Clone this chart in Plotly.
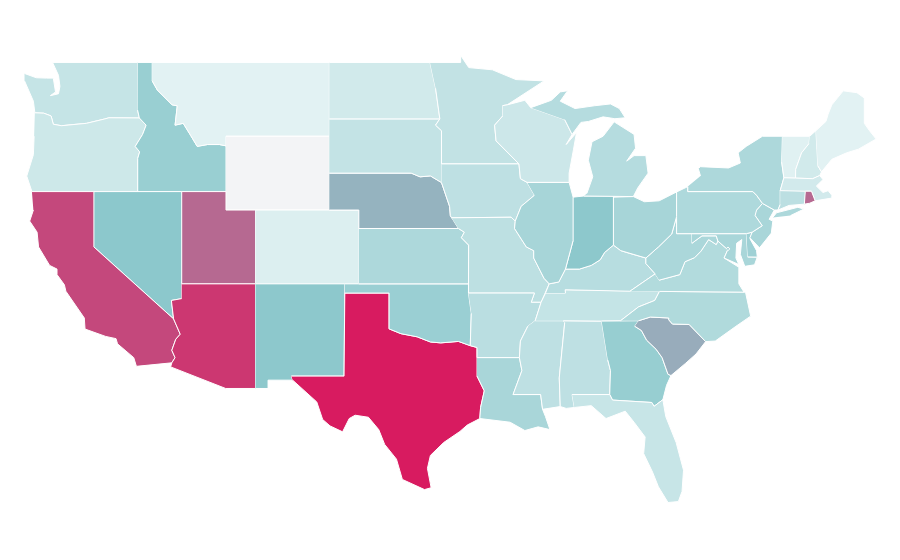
import plotly.graph_objects as go
from plotly.colors import sample_colorscale

# plotly's usa topojson comes from a CDN and there is no network here, so the
# state outlines are hand estimated (lon, lat) and drawn on plain axes

WA = [(-124.7,48.4),(-123.9,48.17),(-123.2,48.15),(-122.75,48.15),(-122.6,47.4),(-122.95,47.2),(-122.4,47.3),(-122.3,47.7),(-122.4,48.3),(-122.8,49),(-117.03,49),(-117.04,46.42),(-116.92,45.99),(-118.98,46),(-119.3,45.93),(-120.5,45.7),(-121.2,45.65),(-122.2,45.57),(-122.75,45.65),(-122.9,46.1),(-123.4,46.25),(-124,46.27),(-124.1,46.9),(-124.4,47.5),(-124.7,48)]
OR = [(-124,46.27),(-123.4,46.25),(-122.9,46.1),(-122.75,45.65),(-122.2,45.57),(-121.2,45.65),(-120.5,45.7),(-119.3,45.93),(-118.98,46),(-116.92,45.99),(-116.46,45.6),(-116.7,45.1),(-117.2,44.45),(-116.9,44.15),(-117.03,43.8),(-117.03,42),(-124.2,42),(-124.55,42.84),(-124.1,44),(-124.05,45)]
ID = [(-117.03,49),(-116.05,49),(-116.05,48),(-115.7,47.5),(-114.7,46.7),(-114.35,46.65),(-114.5,45.6),(-113.95,45.7),(-113.45,45.05),(-113,44.45),(-112.3,44.55),(-111.5,44.55),(-111.05,44.48),(-111.05,42),(-117.03,42),(-117.03,43.8),(-116.9,44.15),(-117.2,44.45),(-116.7,45.1),(-116.46,45.6),(-116.92,45.99),(-117.04,46.42)]
MT = [(-116.05,49),(-104.05,49),(-104.05,45),(-111.05,45),(-111.05,44.48),(-111.5,44.55),(-112.3,44.55),(-113,44.45),(-113.45,45.05),(-113.95,45.7),(-114.5,45.6),(-114.35,46.65),(-114.7,46.7),(-115.7,47.5),(-116.05,48)]
WY = [(-111.05,45),(-104.05,45),(-104.05,41),(-111.05,41)]
UT = [(-114.05,42),(-111.05,42),(-111.05,41),(-109.05,41),(-109.05,37),(-114.05,37)]
NV = [(-120,42),(-114.05,42),(-114.05,36.2),(-114.75,36.1),(-114.6,35.1),(-120,39)]
CA = [(-124.2,42),(-120,42),(-120,39),(-114.6,35.1),(-114.15,34.27),(-114.45,34),(-114.72,33.4),(-114.5,33),(-114.72,32.72),(-117.12,32.53),(-117.3,33),(-118.4,33.75),(-118.5,34.03),(-119.2,34.15),(-120.6,34.55),(-120.65,35.15),(-121.9,36.6),(-122,36.95),(-122.5,37.5),(-122.5,37.8),(-123,38),(-123.75,39),(-123.85,39.8),(-124.35,40.4),(-124.1,41)]
AZ = [(-114.05,37),(-109.05,37),(-109.05,31.33),(-111.07,31.33),(-114.8,32.5),(-114.72,32.72),(-114.5,33),(-114.72,33.4),(-114.45,34),(-114.15,34.27),(-114.6,35.1),(-114.75,36.1),(-114.05,36.2)]
CO = [(-109.05,41),(-102.05,41),(-102.05,37),(-109.05,37)]
NM = [(-109.05,37),(-103,37),(-103.05,32),(-106.62,32),(-106.53,31.78),(-108.2,31.78),(-108.2,31.33),(-109.05,31.33)]
TX = [(-106.62,32),(-103.05,32),(-103,36.5),(-100,36.5),(-100,34.56),(-99.2,34.3),(-98.1,34.13),(-97.2,33.85),(-96.5,33.8),(-95.3,33.88),(-94.5,33.65),(-94.04,33.55),(-94.04,32),(-93.55,31.2),(-93.8,30.3),(-93.85,29.7),(-94.7,29.35),(-95.2,29),(-96.3,28.4),(-97.2,27.7),(-97.4,27),(-97.15,25.95),(-97.6,25.85),(-99.1,26.4),(-99.5,27.5),(-100.3,28.3),(-100.7,29.1),(-101.4,29.77),(-102.3,29.88),(-102.7,29.7),(-103.15,28.98),(-104,29.3),(-104.5,29.65),(-104.9,30.6),(-106.53,31.78)]
OK = [(-103,37),(-94.62,37),(-94.62,36.5),(-94.43,35.4),(-94.5,33.65),(-95.3,33.88),(-96.5,33.8),(-97.2,33.85),(-98.1,34.13),(-99.2,34.3),(-100,34.56),(-100,36.5),(-103,36.5)]
KS = [(-102.05,40),(-95.3,40),(-94.9,39.8),(-95.1,39.5),(-94.61,39.1),(-94.62,37),(-102.05,37)]
NE = [(-104.05,43),(-98.5,43),(-97.9,42.8),(-97.2,42.85),(-96.45,42.49),(-96.1,41.7),(-95.9,41.2),(-95.85,40.7),(-95.3,40),(-102.05,40),(-102.05,41),(-104.05,41)]
SD = [(-104.05,45.94),(-96.56,45.94),(-96.85,45.6),(-96.45,45.3),(-96.45,42.49),(-97.2,42.85),(-97.9,42.8),(-98.5,43),(-104.05,43)]
ND = [(-104.05,49),(-97.23,49),(-96.85,47.6),(-96.56,45.94),(-104.05,45.94)]
MN = [(-97.23,49),(-95.15,49),(-95.15,49.38),(-94.6,48.72),(-93,48.6),(-91.4,48.07),(-89.5,48),(-90.8,47.3),(-92,46.7),(-92.3,46.66),(-92.3,46.1),(-92.85,45.6),(-92.75,44.75),(-91.2,43.5),(-96.45,43.5),(-96.45,45.3),(-96.85,45.6),(-96.56,45.94),(-96.85,47.6)]
IA = [(-96.45,43.5),(-91.2,43.5),(-91.1,42.7),(-90.65,42.5),(-90.15,41.8),(-91.05,41.2),(-91.45,40.4),(-91.73,40.61),(-95.77,40.58),(-95.85,40.7),(-95.9,41.2),(-96.1,41.7),(-96.45,42.49)]
MO = [(-95.77,40.58),(-91.73,40.61),(-91.45,40.4),(-91.5,40),(-90.7,39),(-90.2,38.8),(-90.2,38.4),(-89.5,37.3),(-89.15,37),(-89.4,36.5),(-89.7,36),(-90.37,36),(-90.15,36.5),(-94.62,36.5),(-94.62,37),(-94.61,39.1),(-95.1,39.5),(-94.9,39.8),(-95.3,40)]
AR = [(-94.62,36.5),(-90.15,36.5),(-90.37,36),(-89.7,36),(-90.1,35),(-90.6,34.7),(-91.1,33.9),(-91.17,33),(-94.04,33),(-94.04,33.55),(-94.5,33.65),(-94.43,35.4)]
LA = [(-94.04,33),(-91.17,33),(-91,32.3),(-91.6,31),(-89.73,31),(-89.6,30.2),(-89.4,29.8),(-89.1,29.1),(-89.9,29.25),(-90.8,29.05),(-91.8,29.5),(-92.3,29.55),(-93.85,29.7),(-93.8,30.3),(-93.55,31.2),(-94.04,32)]
MS = [(-90.1,35),(-88.2,35),(-88.1,34.9),(-88.47,31.9),(-88.4,30.35),(-89.6,30.2),(-89.73,31),(-91.6,31),(-91,32.3),(-91.17,33),(-91.1,33.9),(-90.6,34.7)]
AL = [(-88.2,35),(-85.6,34.98),(-85.18,32.87),(-85,32.3),(-85.05,31),(-87.6,31),(-87.45,30.3),(-88,30.25),(-88.4,30.35),(-88.47,31.9),(-88.1,34.9)]
TN = [(-90.1,35),(-89.7,36),(-89.4,36.5),(-88.05,36.5),(-88.07,36.68),(-83.68,36.6),(-81.68,36.59),(-82,36.1),(-83.1,35.75),(-84.32,35),(-85.6,34.98),(-88.2,35)]
KY = [(-89.4,36.5),(-89.15,37),(-88.5,37.1),(-88.05,37.8),(-87.1,37.8),(-86.3,38),(-85.7,38.3),(-85.4,38.7),(-84.8,39.1),(-84.3,38.8),(-83.7,38.65),(-82.6,38.4),(-82.6,38.1),(-81.97,37.54),(-83.68,36.6),(-88.07,36.68),(-88.05,36.5)]
GA = [(-85.6,34.98),(-83.1,35),(-83.35,34.7),(-82.9,34.47),(-82.55,33.95),(-81.9,33.45),(-81.5,33),(-81.1,32.1),(-80.9,32.03),(-81.2,31.5),(-81.45,30.72),(-82.05,30.36),(-82.2,30.57),(-84.86,30.7),(-85.05,31),(-85,32.3),(-85.18,32.87)]
FL = [(-87.6,31),(-85.05,31),(-84.86,30.7),(-82.2,30.57),(-82.05,30.36),(-81.45,30.72),(-81.25,29.8),(-80.55,28.4),(-80.05,26.9),(-80.15,25.75),(-80.4,25.2),(-81.1,25.15),(-81.75,26),(-82.15,26.8),(-82.75,27.8),(-82.65,28.7),(-83.4,29.5),(-84,30.1),(-85.3,29.7),(-86.3,30.4),(-87.45,30.3)]
SC = [(-83.1,35),(-82.3,35.2),(-81.05,35.15),(-81.05,35.05),(-80.8,34.82),(-79.67,34.8),(-78.55,33.87),(-79.2,33.2),(-79.9,32.7),(-80.9,32.03),(-81.1,32.1),(-81.5,33),(-81.9,33.45),(-82.55,33.95),(-82.9,34.47),(-83.35,34.7)]
NC = [(-84.32,35),(-83.1,35.75),(-82,36.1),(-81.68,36.59),(-75.85,36.55),(-75.5,35.25),(-76.5,34.7),(-77.9,33.9),(-78.55,33.87),(-79.67,34.8),(-80.8,34.82),(-81.05,35.05),(-81.05,35.15),(-82.3,35.2),(-83.1,35)]
VA = [(-83.68,36.6),(-81.97,37.54),(-81.7,37.2),(-80.3,37.5),(-79.95,38.2),(-79.3,38.42),(-78.87,38.77),(-78.35,39.4),(-77.83,39.13),(-77.72,39.32),(-77.05,38.85),(-77.3,38.4),(-76.3,37.9),(-76.3,37),(-75.95,36.55),(-81.68,36.59)]
WV = [(-81.97,37.54),(-82.6,38.1),(-82.6,38.4),(-81.75,39),(-80.85,39.7),(-80.52,40.64),(-80.52,39.72),(-79.48,39.72),(-79.48,39.2),(-78.8,39.6),(-78.4,39.6),(-77.83,39.6),(-77.72,39.32),(-77.83,39.13),(-78.35,39.4),(-78.87,38.77),(-79.3,38.42),(-79.95,38.2),(-80.3,37.5),(-81.7,37.2)]
MD = [(-79.48,39.72),(-75.79,39.72),(-75.7,38.46),(-75.05,38.45),(-75.24,38.03),(-75.9,37.95),(-76.2,38.6),(-76.1,39.4),(-76.45,39.2),(-76.5,38.4),(-76.3,38.05),(-77.3,38.4),(-77.05,38.85),(-77.72,39.32),(-77.83,39.6),(-78.4,39.6),(-78.8,39.6),(-79.48,39.2)]
DE = [(-75.79,39.72),(-75.4,39.8),(-75.55,39.45),(-75.1,38.8),(-75.05,38.45),(-75.7,38.46)]
NJ = [(-75.1,41),(-74.7,41.36),(-73.9,41),(-74.25,40.5),(-74,40.4),(-74.1,39.75),(-74.9,38.95),(-75.55,39.5),(-75.4,39.8),(-74.72,40.15),(-75.2,40.7)]
PA = [(-80.52,41.98),(-79.76,42.27),(-79.76,42),(-75.35,42),(-75.1,41.8),(-74.7,41.36),(-75.1,41),(-75.2,40.7),(-74.72,40.15),(-75.4,39.8),(-75.79,39.72),(-80.52,39.72),(-80.52,40.64)]
OH = [(-84.8,41.7),(-83.45,41.73),(-82.7,41.45),(-81.7,41.5),(-80.52,41.98),(-80.52,40.64),(-80.85,39.7),(-81.75,39),(-82.6,38.4),(-83.7,38.65),(-84.3,38.8),(-84.8,39.1)]
IN = [(-87.53,41.7),(-86.8,41.76),(-84.8,41.76),(-84.8,39.1),(-85.4,38.7),(-85.7,38.3),(-86.3,38),(-87.1,37.8),(-88.05,37.8),(-87.53,39.35)]
IL = [(-90.65,42.5),(-87.8,42.5),(-87.53,41.7),(-87.53,39.35),(-88.05,37.8),(-88.5,37.1),(-89.15,37),(-89.5,37.3),(-90.2,38.4),(-90.2,38.8),(-90.7,39),(-91.5,40),(-91.45,40.4),(-91.05,41.2),(-90.15,41.8)]
WI = [(-92.3,46.66),(-92,46.7),(-90.8,46.95),(-90.4,46.55),(-88.1,45.9),(-87.6,45.1),(-88,44.55),(-87.3,45.2),(-87.5,44.3),(-87.8,43),(-87.8,42.5),(-90.65,42.5),(-91.1,42.7),(-91.2,43.5),(-92.75,44.75),(-92.85,45.6),(-92.3,46.1)]
MI = [(-90.4,46.55),(-89,46.95),(-88.4,47.4),(-87.9,47.47),(-88.4,46.9),(-87.4,46.5),(-86.1,46.65),(-85,46.75),(-84.4,46.5),(-84,46),(-84.7,45.95),(-85.5,46.05),(-86.5,45.8),(-87,45.75),(-87.6,45.1),(-88.1,45.9),(None,None),
      (-86.8,41.76),(-84.8,41.76),(-83.45,41.73),(-83.15,42.2),(-82.45,43),(-82.6,43.95),(-83.4,43.95),(-83.9,43.65),(-83.3,44.35),(-83.4,45.1),(-84.75,45.78),(-85.5,45),(-86.25,44.7),(-86.5,43.7),(-86.2,42.8),(-86.6,41.9)]
NY = [(-79.76,42.27),(-79.76,42),(-75.35,42),(-75.1,41.8),(-74.7,41.36),(-73.9,41),(-73.65,41),(-73.5,41.3),(-73.5,42.05),(-73.25,42.75),(-73.4,43.6),(-73.35,45),(-74.7,45),(-75.8,44.45),(-76.35,44.1),(-76.2,43.55),(-77,43.28),(-78.9,43.35),(-79.05,43.25),(-78.9,42.85),(None,None),
      (-74,40.6),(-73.75,40.85),(-72.3,41.15),(-71.9,41.05),(-72.8,40.7)]
VT = [(-73.35,45),(-71.5,45),(-71.55,44.6),(-72.05,44.1),(-72.45,43.2),(-72.46,42.73),(-73.25,42.75),(-73.4,43.6)]
NH = [(-71.5,45),(-71.08,45.3),(-70.95,43.4),(-70.7,43.07),(-70.82,42.87),(-71.3,42.7),(-72.46,42.73),(-72.45,43.2),(-72.05,44.1),(-71.55,44.6)]
ME = [(-71.08,45.3),(-70.4,45.8),(-70.25,46.2),(-70,46.7),(-69.23,47.46),(-68.3,47.36),(-67.8,47.07),(-67.8,45.7),(-67.45,45.3),(-67,44.85),(-68.2,44.3),(-69,44.1),(-70,43.75),(-70.7,43.07),(-70.95,43.4)]
MA = [(-73.5,42.05),(-73.25,42.75),(-72.46,42.73),(-71.3,42.7),(-70.82,42.87),(-70.6,42.65),(-71.05,42.3),(-70.6,41.95),(-70.25,42.05),(-70,41.8),(-70,41.65),(-70.65,41.55),(-71.13,41.5),(-71.38,42.02),(-71.8,42.02)]
RI = [(-71.8,42.02),(-71.38,42.02),(-71.13,41.5),(-71.5,41.37),(-71.86,41.32)]
CT = [(-73.5,42.05),(-71.8,42.02),(-71.86,41.32),(-72.9,41.25),(-73.65,41),(-73.5,41.3)]
DC = [(-77.12,38.93),(-77.04,39),(-76.91,38.89),(-77.04,38.8)]

outlines = [WA,OR,ID,MT,WY,UT,NV,CA,AZ,CO,NM,TX,OK,KS,NE,SD,ND,MN,IA,MO,AR,LA,MS,AL,TN,KY,GA,FL,SC,NC,VA,WV,MD,DE,NJ,PA,OH,IN,IL,WI,MI,NY,VT,NH,ME,MA,RI,CT,DC]
states = ["WA","OR","ID","MT","WY","UT","NV","CA","AZ","CO","NM","TX","OK","KS","NE","SD","ND","MN","IA","MO","AR","LA","MS","AL","TN","KY","GA","FL","SC","NC","VA","WV","MD","DE","NJ","PA","OH","IN","IL","WI","MI","NY","VT","NH","ME","MA","RI","CT","DC"]
values = [4,3.2,8.6,1,0,15.5,10,17.4,18.4,1.6,9.9,20,8.5,6.5,11.2,4.2,2.8,4.4,4.8,4.9,5.2,7,4.8,4.8,4.1,5.5,8.8,3.8,11.6,6.2,6,6.8,7,8,7,6.4,7.2,9.9,7.2,3.3,5.7,6.5,1.2,2.8,1,2.7,15.5,5,7]

colorscale = [[0,"#f3f4f6"],[0.05,"#e2f2f3"],[0.5,"#8cc8cc"],[1,"#d81b60"]]
colors = sample_colorscale(colorscale, [v/20 for v in values])

fig = go.Figure()
for name, outline, color in zip(states, outlines, colors):
    lon, lat = zip(*outline)
    fig.add_trace(go.Scatter(x=lon, y=lat, name=name, mode="lines", fill="toself", fillcolor=color,
                             line=dict(color="white", width=1), hoverinfo="name", showlegend=False))

fig.update_xaxes(visible=False, range=[-125.82,-64.84])
fig.update_yaxes(visible=False, range=[21.6,51.95])
fig.update_layout(width=900, height=560, margin=dict(l=0,r=0,t=0,b=0),
                  paper_bgcolor="white", plot_bgcolor="white")
fig.write_html("out.html")
